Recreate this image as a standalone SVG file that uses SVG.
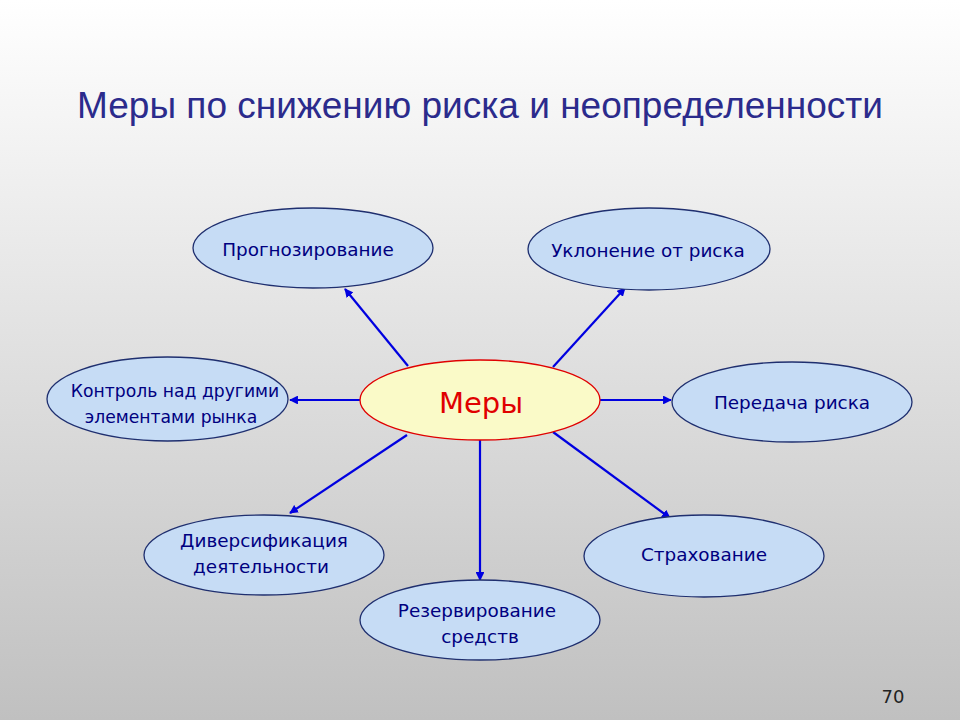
<svg xmlns="http://www.w3.org/2000/svg" width="960" height="720" viewBox="0 0 960 720">
<defs>
<linearGradient id="bg" x1="0" y1="0" x2="0" y2="1">
<stop offset="0" stop-color="#ffffff"/>
<stop offset="1" stop-color="#c0c0c0"/>
</linearGradient>
<marker id="ah" viewBox="0 0 10 10" refX="9" refY="5" markerWidth="4" markerHeight="4" orient="auto" markerUnits="strokeWidth">
<path d="M0,0 L10,5 L0,10 z" fill="#0000e0"/>
</marker>
</defs>
<style>
.n{fill:#c6dcf5;stroke:#1f2f6f;stroke-width:1.3}
.t{font-family:"DejaVu Sans",sans-serif;font-size:18.4px;fill:#000080;text-anchor:middle}
.s{font-size:17.2px}
.c line{stroke:#0000e0;stroke-width:2.2;marker-end:url(#ah)}
</style>
<rect width="960" height="720" fill="url(#bg)"/>
<text x="480" y="118" font-family="'Liberation Sans',sans-serif" font-size="36" fill="#2b2b8c" text-anchor="middle" textLength="806" lengthAdjust="spacingAndGlyphs">Меры по снижению риска и неопределенности</text>
<g class="c" id="connectors">
<line x1="408" y1="366" x2="345" y2="289"/>
<line x1="553" y1="367" x2="625" y2="288"/>
<line x1="360" y1="400" x2="290" y2="400"/>
<line x1="600" y1="400" x2="671" y2="400"/>
<line x1="407" y1="435" x2="290" y2="513"/>
<line x1="480" y1="440" x2="480" y2="580"/>
<line x1="553" y1="432" x2="670" y2="518"/>
</g>
<g id="n-prog"><ellipse class="n" cx="313" cy="248" rx="120" ry="40"/><text class="t" x="308" y="256">Прогнозирование</text></g>
<g id="n-ukl"><ellipse class="n" cx="649" cy="249" rx="121" ry="41"/><text class="t" x="648" y="257">Уклонение от риска</text></g>
<g id="n-kontr"><ellipse class="n" cx="167.5" cy="399" rx="120.5" ry="42"/><text class="t s" x="175" y="397">Контроль над другими</text><text class="t s" x="171" y="423">элементами рынка</text></g>
<g id="n-mery"><ellipse cx="480" cy="400" rx="120" ry="40" fill="#fafac8" stroke="#e00000" stroke-width="1.3"/><text x="481" y="413" font-family="'DejaVu Sans',sans-serif" font-size="29" fill="#e00000" text-anchor="middle">Меры</text></g>
<g id="n-per"><ellipse class="n" cx="792" cy="402" rx="120" ry="40"/><text class="t" x="792" y="409">Передача риска</text></g>
<g id="n-div"><ellipse class="n" cx="264" cy="555" rx="120" ry="40"/><text class="t" x="264" y="547">Диверсификация</text><text class="t" x="261" y="573">деятельности</text></g>
<g id="n-str"><ellipse class="n" cx="704" cy="556" rx="120" ry="41"/><text class="t" x="704" y="561">Страхование</text></g>
<g id="n-rez"><ellipse class="n" cx="480" cy="620" rx="120" ry="40"/><text class="t" x="477" y="617">Резервирование</text><text class="t" x="480" y="643">средств</text></g>
<text x="893" y="703" font-family="'DejaVu Sans',sans-serif" font-size="18" fill="#222" text-anchor="middle">70</text>
</svg>
